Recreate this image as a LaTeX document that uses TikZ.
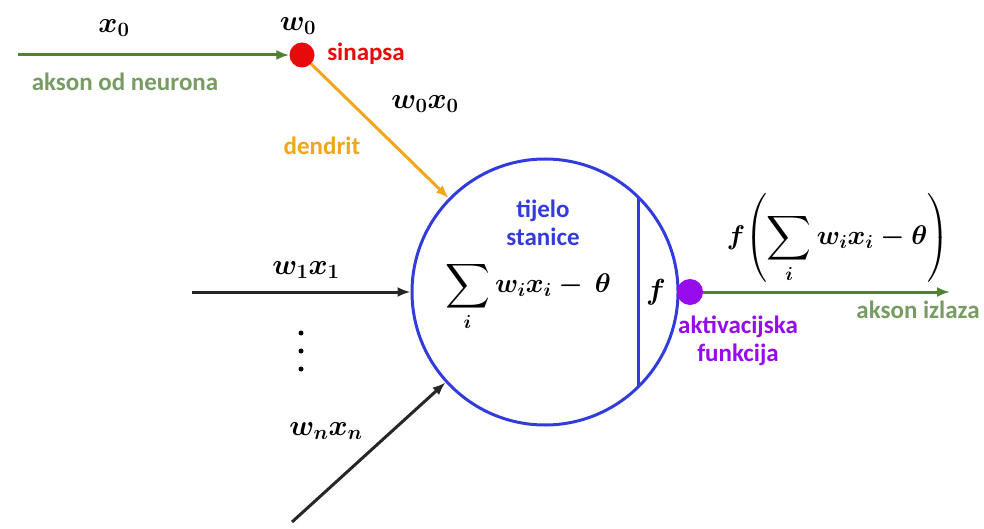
\RequirePackage{fix-cm}
\documentclass[tikz,border=0pt]{standalone}
\usepackage{amsmath}
\usepackage{graphicx}
\usepackage{fontspec}
\setsansfont{Carlito}
\usetikzlibrary{arrows.meta}
\definecolor{axgreen}{RGB}{80,130,50}
\definecolor{lblgreen}{RGB}{120,155,100}
\definecolor{synred}{RGB}{232,10,10}
\definecolor{dendorange}{RGB}{242,165,30}
\definecolor{cellblue}{RGB}{50,60,220}
\definecolor{actpurple}{RGB}{150,10,235}
\newcommand{\bigsigma}{\mathop{\vcenter{\hbox{\scalebox{1.25}{$\displaystyle\sum$}}}}\limits}
\tikzset{
  mathlbl/.style={font=\fontsize{29}{33}\selectfont\boldmath, inner sep=0pt},
  mathfml/.style={font=\fontsize{27}{31}\selectfont\boldmath, inner sep=0pt},
  txtlbl/.style={font=\fontsize{25}{28}\selectfont\sffamily\bfseries, inner sep=0pt, align=center},
  arr/.style={line width=3pt, -{Latex[length=13pt,width=10pt]}},
}
\begin{document}
\begin{tikzpicture}[x=1pt,y=-1pt]
\useasboundingbox (0,0) rectangle (984,529);
% cell body
\node[draw=cellblue, line width=3pt, circle, minimum size=266pt, inner sep=0pt] (cell) at (545,292) {};
\coordinate (vtop) at (638,198);
\coordinate (vbot) at (638,386);
\draw[cellblue, line width=3pt] (vtop) -- (vbot);
% synapse and activation dots
\node[circle, fill=synred, minimum size=25pt, inner sep=0pt] (syn) at (302,55) {};
\node[circle, fill=actpurple, minimum size=26pt, inner sep=0pt] (act) at (690,292) {};
% coordinates
\coordinate (x0start) at (18,55);
\coordinate (w1start) at (192,292);
\coordinate (wnstart) at (292,522);
\coordinate (outend) at (950,292);
% connectors
\draw[arr, axgreen] (x0start) -- (syn.west);
\draw[arr, dendorange] (syn) -- (cell);
\draw[arr, black!85] (w1start) -- (cell.west);
\draw[arr, black!85] (wnstart) -- (cell);
\draw[arr, axgreen] (act) -- (outend);
% dots
\node[circle, fill=black, minimum size=5pt, inner sep=0pt] (d1) at (301,333) {};
\node[circle, fill=black, minimum size=5pt, inner sep=0pt] (d2) at (301,351) {};
\node[circle, fill=black, minimum size=5pt, inner sep=0pt] (d3) at (301,369) {};
% math labels
\node[mathlbl] (lx0) at (114,28) {$x_0$};
\node[mathlbl] (lw0) at (298,26) {$w_0$};
\node[mathlbl] (lw0x0) at (425,104) {$w_0x_0$};
\node[mathlbl] (lw1x1) at (306,270) {$w_1x_1$};
\node[mathlbl] (lwnxn) at (326,431) {$w_nx_n$};
\node[mathfml] (lsum) at (528,296) {$\displaystyle\bigsigma_i w_ix_i-\,\theta$};
\node[mathlbl] (lf) at (656,292) {$f$};
\node[mathfml] (lout) at (838,238) {$\displaystyle f\!\left(\bigsigma_i w_ix_i-\theta\right)$};
% text labels
\node[txtlbl, synred] (tsyn) at (366,54) {sinapsa};
\node[txtlbl, lblgreen] (tax) at (125,82) {akson od neurona};
\node[txtlbl, dendorange] (tden) at (322,146) {dendrit};
\node[txtlbl, cellblue] (tcell) at (543,223) {tijelo\\[0pt]stanice};
\node[txtlbl, actpurple] (tact) at (738,341) {aktivacijska\\[0pt]funkcija};
\node[txtlbl, lblgreen] (tout) at (918,310) {akson izlaza};
\end{tikzpicture}
\end{document}
